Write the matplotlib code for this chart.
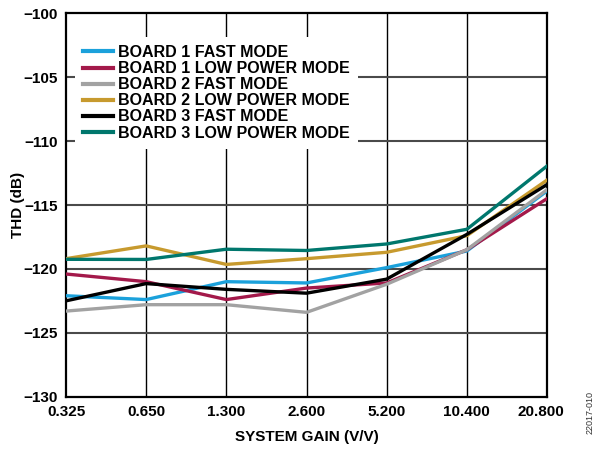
import matplotlib
matplotlib.use("Agg")
import matplotlib.pyplot as plt
import matplotlib.transforms as mtransforms
from matplotlib.ticker import FixedLocator, FixedFormatter, NullLocator

gain = [0.325, 0.650, 1.300, 2.600, 5.200, 10.400, 20.800]
gain_labels = ["0.325", "0.650", "1.300", "2.600", "5.200", "10.400", "20.800"]

b1_fast = [-122.1, -122.4, -121.0, -121.1, -119.9, -118.6, -113.9]
b1_low = [-120.4, -121.0, -122.4, -121.5, -121.1, -118.5, -114.5]
b2_fast = [-123.3, -122.8, -122.8, -123.4, -121.2, -118.5, -113.8]
b2_low = [-119.2, -118.2, -119.65, -119.2, -118.7, -117.4, -113.05]
b3_fast = [-122.5, -121.15, -121.6, -121.9, -120.8, -117.3, -113.4]
b3_low = [-119.25, -119.26, -118.46, -118.56, -118.05, -116.9, -111.95]

series = [
    ("BOARD 1 FAST MODE", b1_fast, "#1BA1DB"),
    ("BOARD 1 LOW POWER MODE", b1_low, "#A3194A"),
    ("BOARD 2 FAST MODE", b2_fast, "#A2A2A2"),
    ("BOARD 2 LOW POWER MODE", b2_low, "#C79A2E"),
    ("BOARD 3 FAST MODE", b3_fast, "#000000"),
    ("BOARD 3 LOW POWER MODE", b3_low, "#00776D"),
]

y_ticks = [-130, -125, -120, -115, -110, -105, -100]
y_labels = ["\u2212130", "\u2212125", "\u2212120", "\u2212115", "\u2212110", "\u2212105", "\u2212100"]

plt.rcParams['font.family'] = ['Liberation Sans', 'DejaVu Sans']
plt.rcParams['font.weight'] = 'bold'

fig = plt.figure(figsize=(5.95, 4.49), dpi=100)
ax = fig.add_axes([66/595, 1-396.7/449, (547-66)/595, (396.7-13.3)/449])

ax.set_xscale('log', base=2)
ax.set_xlim(gain[0], gain[-1])
ax.set_ylim(-130, -100)

ax.xaxis.set_major_locator(FixedLocator(gain))
ax.xaxis.set_major_formatter(FixedFormatter(gain_labels))
ax.xaxis.set_minor_locator(NullLocator())
ax.yaxis.set_major_locator(FixedLocator(y_ticks))
ax.yaxis.set_major_formatter(FixedFormatter(y_labels))
ax.yaxis.set_minor_locator(NullLocator())

ax.tick_params(axis='both', length=0, labelsize=11, pad=6)
for lab in ax.get_xticklabels() + ax.get_yticklabels():
    lab.set_fontweight('bold')

for g in gain[1:-1]:
    ax.axvline(g, color='#000000', lw=1.0, zorder=1)
for yv in y_ticks[1:-1]:
    ax.axhline(yv, color='#4a4a4a', lw=1.5, zorder=1)

for name, vals, col in series:
    ax.plot(gain, vals, color=col, lw=2.4, label=name, zorder=3, solid_joinstyle='round')

for sp in ax.spines.values():
    sp.set_linewidth(1.6)
    sp.set_color('black')

leg = ax.legend(loc='upper left', bbox_to_anchor=((75-66)/481, (396.7-37)/383.4),
                borderaxespad=0, borderpad=0.5, frameon=True, fancybox=False,
                facecolor='white', edgecolor='none', framealpha=1.0,
                prop={'weight': 'bold', 'size': 11.5}, handlelength=1.9,
                handletextpad=0.3, labelspacing=0.07)
for l in leg.get_lines():
    l.set_linewidth(3)
leg.set_zorder(5)

ax.set_xlabel("SYSTEM GAIN (V/V)", fontsize=11, fontweight='bold', labelpad=8)
ax.set_ylabel("THD (dB)", fontsize=11, fontweight='bold', labelpad=-1)

# shift last x tick label slightly left as in reference
last = ax.get_xticklabels()[-1]
last.set_transform(last.get_transform() + mtransforms.ScaledTranslation(-6/100, 0, fig.dpi_scale_trans))

fig.text(590/595, 1-412/449, "22017-010", rotation=90, fontsize=6.5, fontweight='normal',
         color='#333333', ha='center', va='center')

fig.savefig("out.png", dpi=100)
